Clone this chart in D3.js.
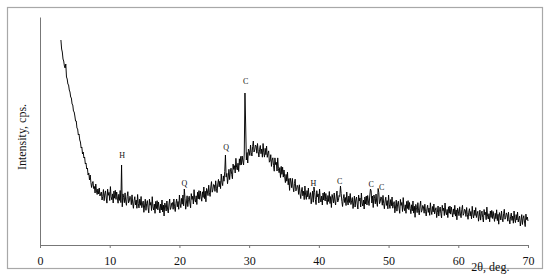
<!DOCTYPE html>
<html>
<head>
<meta charset="utf-8">
<script src="https://cdn.jsdelivr.net/npm/d3@7"></script>
<style>
  body { margin: 0; background: #fff; }
  svg { display: block; font-family: 'Liberation Serif', 'DejaVu Serif', serif; }
</style>
</head>
<body>
<div id="chart"></div>
<script>
// XRD scan, 2θ from 3.0 to 70.0 deg, step 0.1 (one row = 2 deg)
const scanStart = 3.0
const scanStep = 0.1
const counts = [
  2050, 1960, 1930, 1860, 1840, 1790, 1770, 1810, 1680, 1660, 1610, 1600, 1550, 1530, 1480, 1470, 1410, 1400, 1340, 1330,
  1290, 1240, 1240, 1170, 1160, 1100, 1110, 1050, 1030, 970, 980, 910, 930, 870, 880, 810, 820, 760, 770, 700,
  720, 650, 700, 625, 575, 615, 635, 565, 585, 520, 610, 540, 505, 560, 510, 570, 490, 514, 530, 450,
  485, 555, 443, 512, 541, 470, 419, 558, 497, 526, 445, 584, 483, 452, 511, 420, 539, 468, 547, 456,
  530, 469, 418, 507, 446, 545, 424, 800, 382, 511, 475, 423, 521, 439, 397, 485, 533, 421, 439, 487,
  475, 403, 501, 419, 367, 445, 483, 401, 449, 367, 505, 413, 371, 459, 397, 485, 373, 411, 439, 327,
  390, 458, 347, 415, 444, 372, 321, 459, 398, 426, 345, 483, 382, 350, 409, 317, 436, 364, 443, 351,
  430, 370, 320, 410, 350, 450, 330, 400, 290, 420, 390, 340, 440, 360, 320, 410, 460, 355, 375, 420,
  425, 357, 460, 382, 335, 417, 460, 382, 435, 357, 500, 412, 374, 466, 408, 500, 392, 560, 466, 358,
  420, 492, 384, 456, 488, 420, 372, 514, 456, 488, 410, 553, 456, 429, 492, 405, 528, 461, 544, 457,
  540, 484, 438, 532, 476, 580, 464, 538, 432, 566, 540, 494, 598, 522, 486, 580, 634, 528, 552, 606,
  600, 536, 642, 568, 524, 610, 656, 582, 638, 564, 710, 627, 594, 691, 638, 735, 900, 679, 716, 613,
  680, 757, 654, 731, 768, 705, 662, 809, 756, 793, 720, 867, 774, 751, 818, 735, 862, 799, 886, 803,
  890, 840, 800, 910, 1520, 1200, 850, 925, 820, 960, 940, 895, 1000, 925, 890, 985, 1040, 930, 950, 1000,
  990, 918, 1015, 933, 880, 958, 995, 913, 960, 878, 1015, 922, 879, 966, 903, 990, 877, 914, 941, 828,
  840, 903, 786, 849, 872, 795, 738, 871, 804, 827, 740, 871, 762, 723, 774, 675, 786, 707, 778, 679,
  750, 682, 624, 706, 638, 730, 602, 664, 546, 668, 630, 573, 666, 579, 532, 615, 658, 541, 554, 597,
  580, 506, 602, 518, 464, 540, 576, 492, 538, 454, 590, 498, 456, 544, 482, 570, 458, 496, 524, 412,
  470, 539, 428, 580, 526, 455, 404, 543, 482, 511, 420, 560, 460, 430, 490, 400, 520, 450, 530, 440,
  515, 455, 405, 495, 435, 535, 415, 485, 375, 505, 470, 420, 520, 440, 400, 490, 540, 430, 445, 495,
  485, 590, 515, 435, 385, 465, 505, 425, 475, 395, 530, 440, 400, 490, 425, 515, 405, 445, 475, 365,
  420, 490, 380, 450, 480, 410, 360, 500, 440, 470, 380, 520, 420, 390, 450, 360, 480, 410, 490, 400,
  495, 440, 395, 490, 560, 540, 420, 490, 375, 500, 465, 412, 510, 428, 386, 565, 524, 413, 432, 481,
  470, 398, 496, 414, 362, 440, 478, 396, 444, 362, 500, 408, 366, 454, 392, 480, 368, 406, 434, 322,
  380, 449, 339, 409, 438, 368, 317, 456, 396, 425, 335, 474, 374, 343, 402, 317, 436, 365, 444, 353,
  425, 364, 313, 402, 341, 440, 319, 388, 277, 406, 375, 324, 423, 342, 301, 390, 439, 328, 347, 396,
  382, 318, 408, 336, 290, 362, 398, 326, 370, 297, 422, 340, 305, 385, 331, 410, 311, 347, 373, 274,
  327, 390, 290, 353, 380, 317, 271, 397, 343, 369, 295, 420, 330, 302, 356, 274, 382, 318, 390, 309,
  380, 326, 280, 361, 307, 397, 289, 351, 252, 368, 339, 293, 382, 310, 273, 353, 397, 297, 314, 358,
  349, 285, 375, 303, 257, 328, 363, 291, 335, 262, 387, 305, 270, 349, 295, 374, 275, 311, 337, 238,
  287, 349, 249, 312, 339, 275, 230, 355, 301, 327, 253, 379, 288, 260, 313, 232, 340, 276, 346, 265,
  335, 281, 236, 317, 263, 352, 244, 307, 208, 324, 295, 250, 340, 268, 232, 313, 357, 258, 276, 321,
  302, 238, 328, 256, 211, 283, 319, 246, 290, 218, 340, 259, 224, 304, 250, 330, 230, 265, 290, 190,
  242, 304, 205, 267, 293, 230, 184, 309, 254, 280, 240
]

// phase marks: H, Q, C
const peakLabels = ['H', 'Q', 'Q', 'C', 'H', 'C', 'C', 'C']
const peakAngles = [11.8, 20.7, 26.7, 29.5, 39.2, 43.0, 47.5, 49.0]
const peakLabelCounts = [900, 620, 980, 1640, 620, 640, 610, 580]

const xTicks = [0, 10, 20, 30, 40, 50, 60, 70]

const width = 550
const height = 278
const margin = { top: 17, right: 22, bottom: 33, left: 40 }
const innerW = width - margin.left - margin.right
const innerH = height - margin.top - margin.bottom

const svg = d3.select('#chart')
  .append('svg')
  .attr('width', width)
  .attr('height', height)

// outer frame
svg.append('rect')
  .attr('x', 7.5)
  .attr('y', 7.5)
  .attr('width', 535)
  .attr('height', 261)
  .attr('fill', 'none')
  .attr('stroke', '#a8a8a8')
  .attr('stroke-width', 1.2)

const g = svg.append('g')
  .attr('transform', `translate(${margin.left}, ${margin.top})`)

const x = d3.scaleLinear().domain([0, 70]).range([0, innerW])
const y = d3.scaleLinear().domain([0, 2280]).range([innerH, 0])

const scan = counts.map((c, i) => ({ angle: scanStart + i * scanStep, count: c }))

g.append('path')
  .datum(scan)
  .attr('fill', 'none')
  .attr('stroke', '#000')
  .attr('stroke-width', 0.95)
  .attr('d', d3.line().x(d => x(d.angle)).y(d => y(d.count)))

// x axis
const xAxis = g.append('g')
  .attr('transform', `translate(0, ${innerH})`)
  .call(d3.axisBottom(x).tickValues(xTicks).tickSize(3).tickPadding(8))
xAxis.select('.domain').attr('stroke', '#777')
xAxis.selectAll('.tick line').attr('stroke', '#777')
xAxis.selectAll('text')
  .attr('font-family', 'Liberation Serif, serif')
  .attr('font-size', '12px')
  .attr('fill', '#111')

// y axis (line only)
const yAxis = g.append('g')
  .call(d3.axisLeft(y).tickValues([]).tickSizeOuter(0))
yAxis.select('.domain').attr('stroke', '#777')

// peak marks
g.append('g')
  .selectAll('text')
  .data(peakLabels)
  .enter()
  .append('text')
  .text(d => d)
  .attr('x', (d, i) => x(peakAngles[i]))
  .attr('y', (d, i) => y(peakLabelCounts[i]))
  .attr('dy', '0.35em')
  .attr('text-anchor', 'middle')
  .attr('font-size', '8px')
  .attr('fill', '#111')

// y label
g.append('text')
  .text('Intensity, cps.')
  .attr('transform', 'rotate(-90)')
  .attr('text-anchor', 'middle')
  .attr('font-size', '12px')
  .attr('fill', '#111')
  .attr('x', -120)
  .attr('y', -14)

// x label
g.append('text')
  .text('2θ, deg.')
  .attr('text-anchor', 'middle')
  .attr('font-size', '12px')
  .attr('fill', '#111')
  .attr('x', x(64.6))
  .attr('y', innerH + 26)
</script>
</body>
</html>
